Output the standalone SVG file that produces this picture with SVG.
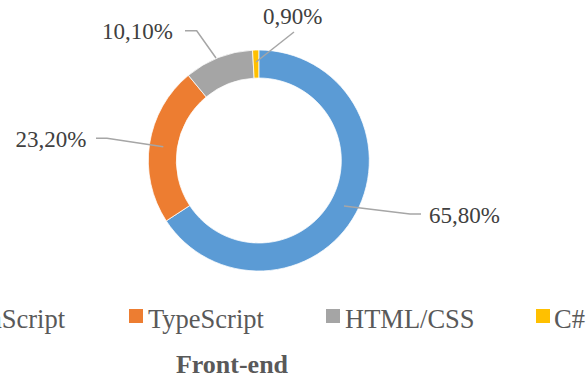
<svg xmlns="http://www.w3.org/2000/svg" width="587" height="380" viewBox="0 0 587 380">
  <style>
    .seg { stroke: #ffffff; stroke-width: 0.75; }
    .lead { fill: none; stroke: #a6a6a6; stroke-width: 1.5; }
    .val { font-family: 'Liberation Serif', 'DejaVu Serif', serif; font-size: 23px; fill: #404040; }
    .leg { font-family: 'Liberation Serif', 'DejaVu Serif', serif; font-size: 26.5px; fill: #595959; }
    .title { font-family: 'Liberation Serif', 'DejaVu Serif', serif; font-size: 26px; font-weight: bold; fill: #595959; }
  </style>
  <rect width="587" height="380" fill="#ffffff"/>

  <!-- donut ring: centre (258.8,160.5), outer r 110.5, inner r 82.5 -->
  <g id="slice-javascript">
    <path class="seg" fill="#5b9bd5" d="M258.8,50 A110.5,110.5 0 1 1 166.26,220.88 L189.71,205.58 A82.5,82.5 0 1 0 258.8,78 Z"/>
  </g>
  <g id="slice-typescript">
    <path class="seg" fill="#ed7d31" d="M166.26,220.88 A110.5,110.5 0 0 1 188.36,75.36 L206.21,96.93 A82.5,82.5 0 0 0 189.71,205.58 Z"/>
  </g>
  <g id="slice-htmlcss">
    <path class="seg" fill="#a5a5a5" d="M188.36,75.36 A110.5,110.5 0 0 1 252.55,50.18 L254.14,78.13 A82.5,82.5 0 0 0 206.21,96.93 Z"/>
  </g>
  <g id="slice-csharp">
    <path class="seg" fill="#ffc000" d="M252.55,50.18 A110.5,110.5 0 0 1 258.8,50 L258.8,78 A82.5,82.5 0 0 0 254.14,78.13 Z"/>
  </g>

  <!-- leader lines -->
  <g id="leaders">
    <polyline class="lead" points="344,206 410,214 421,214"/>
    <polyline class="lead" points="96,138.3 107,138.3 163.3,146.7"/>
    <polyline class="lead" points="185,30.7 196.7,30.7 216,58"/>
    <polyline class="lead" points="256,62 294,32"/>
  </g>

  <!-- data labels -->
  <g id="labels">
    <text class="val" x="429" y="223.3">65,80%</text>
    <text class="val" x="86.5" y="146.7" text-anchor="end">23,20%</text>
    <text class="val" x="173" y="38.8" text-anchor="end">10,10%</text>
    <text class="val" x="263" y="24.3">0,90%</text>
  </g>

  <!-- legend -->
  <g id="legend">
    <rect x="-61" y="309" width="14" height="14" fill="#5b9bd5"/>
    <text class="leg" x="65" y="327.5" text-anchor="end">JavaScript</text>
    <rect x="129" y="309" width="14" height="14" fill="#ed7d31"/>
    <text class="leg" x="148" y="327.5">TypeScript</text>
    <rect x="326" y="309" width="14" height="14" fill="#a5a5a5"/>
    <text class="leg" x="345" y="327.5">HTML/CSS</text>
    <rect x="536" y="309" width="14" height="14" fill="#ffc000"/>
    <text class="leg" x="554" y="327.5">C#</text>
  </g>

  <text class="title" x="232" y="373" text-anchor="middle">Front-end</text>
</svg>
